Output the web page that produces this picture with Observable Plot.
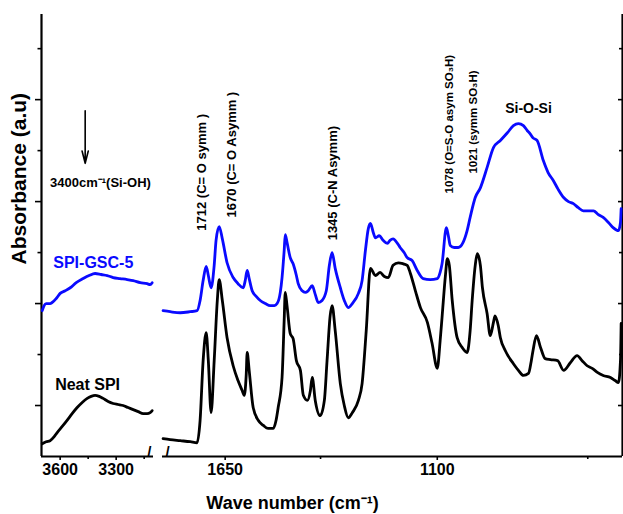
<!DOCTYPE html>
<html>
<head>
<meta charset="utf-8">
<script src="https://cdn.jsdelivr.net/npm/d3@7"></script>
<script src="https://cdn.jsdelivr.net/npm/@observablehq/plot@0.6"></script>
<style>
  body { margin: 0; background: #fff; }
  #chart { position: relative; width: 623px; height: 514px; }
  #chart svg { position: absolute; top: 0; }
</style>
</head>
<body>
<div id="chart"></div>
<script>
// ---- O–H stretching region (cm^-1) ----
const ohWaveNeat = [3696,3675,3654,3632,3616,3589,3563,3536,3509,3482,3455,3434,3413,3391,3370,3343,3316,3289,3263,3236,3209,3182,3155,3134,3118,3107];
const ohNeat     = [0.25,0.29,0.31,0.39,0.47,0.59,0.71,0.84,0.96,1.06,1.14,1.18,1.20,1.18,1.14,1.08,1.04,1.02,1.00,0.96,0.92,0.88,0.84,0.84,0.86,0.90];
const ohWaveGsc  = [3696,3686,3675,3654,3643,3621,3600,3573,3546,3514,3477,3445,3413,3380,3348,3316,3279,3241,3209,3171,3134,3118,3107];
const ohGsc      = [2.86,2.96,3.00,3.00,3.02,3.10,3.20,3.25,3.31,3.41,3.49,3.55,3.59,3.57,3.55,3.51,3.49,3.47,3.45,3.41,3.39,3.37,3.41];

// ---- fingerprint region (cm^-1) ----
const fpWaveNeat = [1858,1833,1798,1764,1741,1731,1721,1711,1704,1695,1685,1675,1669,1659,1644,1625,1610,1597,1591,1585,1582,1576,1564,1549,1534,1520,1505,1497,1491,1480,1474,1471,1466,1457,1449,1440,1429,1421,1410,1402,1397,1389,1376,1365,1358,1350,1345,1337,1324,1314,1304,1294,1279,1270,1260,1250,1238,1227,1217,1208,1197,1185,1174,1165,1158,1147,1136,1121,1111,1100,1094,1090,1083,1079,1075,1069,1059,1049,1039,1033,1029,1023,1019,1013,1009,1000,994,988,985,979,975,966,951,942,933,924,919,916,910,903,895,886,874,864,853,842,834,826,818,810,801,790,783,778,775,774];
const fpNeat     = [0.35,0.33,0.31,0.29,0.27,0.71,1.88,2.43,1.88,0.86,1.88,3.06,3.47,3.06,2.33,1.78,1.49,1.29,1.20,1.59,2.04,1.69,0.96,0.71,0.61,0.55,0.55,0.71,0.96,1.55,2.67,3.22,2.96,2.41,2.31,1.88,1.69,1.20,1.10,1.29,1.55,1.10,0.80,1.10,1.88,2.76,2.96,2.47,1.43,1.00,0.76,0.86,1.10,1.43,2.47,3.69,3.55,3.61,3.53,3.51,3.75,3.80,3.78,3.75,3.59,3.25,2.92,2.63,2.22,1.73,2.27,2.73,3.55,3.88,3.75,3.06,2.33,2.14,2.04,2.47,3.06,3.75,3.98,3.75,3.31,2.80,2.37,2.63,2.76,2.57,2.33,2.08,1.82,1.69,1.59,1.63,1.88,2.08,2.37,2.14,1.92,1.90,1.88,1.69,1.84,1.98,1.88,1.78,1.73,1.65,1.59,1.55,1.49,1.45,1.88,2.61];
const fpWaveGsc  = [1858,1833,1798,1764,1741,1731,1721,1711,1704,1695,1685,1679,1669,1659,1644,1625,1610,1594,1588,1582,1576,1567,1555,1543,1528,1514,1502,1494,1485,1480,1474,1471,1466,1457,1449,1440,1435,1424,1416,1408,1397,1389,1381,1371,1360,1352,1345,1337,1324,1314,1304,1294,1279,1270,1262,1255,1250,1243,1238,1229,1220,1210,1204,1197,1187,1181,1172,1165,1154,1143,1130,1115,1100,1094,1090,1081,1077,1073,1065,1057,1047,1039,1033,1023,1013,1000,988,975,962,951,942,933,926,921,916,909,898,890,881,873,864,856,848,840,832,824,816,809,801,793,786,778,775,774];
const fpGsc      = [2.86,2.84,2.82,2.84,2.86,3.06,3.45,3.73,3.55,3.31,3.75,4.24,4.51,4.27,3.80,3.51,3.39,3.31,3.45,3.65,3.49,3.25,3.14,3.06,3.00,2.96,2.96,3.00,3.22,3.51,4.04,4.35,4.20,3.90,3.78,3.55,3.39,3.25,3.22,3.25,3.35,3.18,3.02,3.06,3.25,3.75,4.00,3.69,3.31,3.06,2.92,3.00,3.20,3.45,4.04,4.47,4.57,4.39,4.29,4.33,4.24,4.18,4.24,4.27,4.18,4.10,4.00,3.90,3.84,3.65,3.49,3.47,3.49,3.61,3.78,4.49,4.33,4.14,4.10,4.10,4.20,4.43,4.69,5.08,5.27,5.67,6.06,6.20,6.35,6.49,6.53,6.49,6.39,6.33,6.25,6.20,5.80,5.57,5.41,5.24,5.08,5.00,4.96,4.88,4.82,4.82,4.82,4.75,4.69,4.59,4.49,4.43,4.59,4.86];

// ---- axes ----
const ohDomain = [3700, 3100];
const fpDomain = [1860, 772];
const yDomain = [0, 8.67];
const yMajor = [1, 3, 5, 7];
const yMinor = [2, 4, 6, 8];
const ohTicks = [3600, 3300];
const ohMinor = [3450, 3150];
const fpTicks = [1650, 1100];
const fpMinor = [1375, 825];

// ---- band assignments (carbonyl / amide, then sulfonate) ----
const amideLabels = ["1712 (C= O symm )", "1670 (C= O Asymm )", "1345 (C-N Asymm)"];
const amideWave = [1725, 1628, 1342];
const amideBase = [4.43, 4.69, 4.24];
const sulfoLabels = ["1078 (O=S-O asym SO\u2083H)", "1021 (symm SO\u2083H)"];
const sulfoWave = [1075, 1027];
const sulfoBase = [5.16, 5.55];

const BLUE = "#0a0aff";
const font = '"Liberation Sans", Arial, Helvetica, sans-serif';
const H = 514, MT = 14, MB = 58;

const toRows = (xs, ys) => xs.map((w, i) => ({w, a: ys[i]}));
const neatOH = toRows(ohWaveNeat, ohNeat);
const gscOH = toRows(ohWaveGsc, ohGsc);
const neatFP = toRows(fpWaveNeat, fpNeat);
const gscFP = toRows(fpWaveGsc, fpGsc);
const amide = amideLabels.map((t, i) => ({t, w: amideWave[i], a: amideBase[i]}));
const sulfo = sulfoLabels.map((t, i) => ({t, w: sulfoWave[i], a: sulfoBase[i]}));

const blank = () => "";
const bold = {fontWeight: "bold"};

const leftPlot = Plot.plot({
  width: 160, height: H,
  marginLeft: 41, marginRight: 7, marginTop: MT, marginBottom: MB,
  style: {fontFamily: font, background: "transparent", overflow: "visible", color: "#000"},
  x: {domain: ohDomain},
  y: {domain: yDomain},
  marks: [
    Plot.axisY({ticks: yMajor, tickSize: 6, tickFormat: blank, label: null, strokeWidth: 1.6}),
    Plot.axisY({ticks: yMinor, tickSize: 3.5, tickFormat: blank, label: null, strokeWidth: 1.6}),
    Plot.axisX({ticks: ohTicks, tickSize: 4, tickPadding: 3, tickFormat: d => String(d), label: null, fontSize: 16, ...bold, strokeWidth: 1.6}),
    Plot.axisX({ticks: ohMinor, tickSize: 3, tickFormat: blank, label: null, strokeWidth: 1.6}),
    Plot.ruleX([ohDomain[0]], {strokeWidth: 2.2}),
    Plot.ruleY([yDomain[0]], {strokeWidth: 2.2}),
    Plot.text(["/"], {frameAnchor: "bottom-right", dx: -2, fontSize: 15, ...bold}),
    Plot.line(neatOH, {x: "w", y: "a", stroke: "#000", strokeWidth: 2.8, curve: "monotone-x"}),
    Plot.line(gscOH, {x: "w", y: "a", stroke: BLUE, strokeWidth: 2.8, curve: "monotone-x"}),
    Plot.arrow([{w: 3466, a1: 6.78, a2: 5.75}], {x1: "w", y1: "a1", x2: "w", y2: "a2", strokeWidth: 1.6, headLength: 12, headAngle: 28}),
    Plot.text(["3400cm\u207B\u00B9(Si-OH)"], {x: 3654, y: 5.37, textAnchor: "start", fontSize: 13, ...bold}),
    Plot.text(["SPI-GSC-5"], {x: 3637, y: 3.80, textAnchor: "start", fontSize: 16, fill: BLUE, ...bold}),
    Plot.text(["Neat SPI"], {x: 3627, y: 1.41, textAnchor: "start", fontSize: 16, ...bold}),
    Plot.text(["Absorbance (a.u)"], {x: ohDomain[0], y: 5.45, rotate: -90, dx: -22, fontSize: 21, ...bold})
  ]
});

const rightPlot = Plot.plot({
  width: 473, height: H,
  marginLeft: 12, marginRight: 1, marginTop: MT, marginBottom: MB,
  style: {fontFamily: font, background: "transparent", overflow: "visible", color: "#000"},
  x: {type: "log", domain: fpDomain},
  y: {domain: yDomain},
  marks: [
    Plot.axisY({anchor: "right", ticks: yMajor, tickSize: -5, tickFormat: blank, label: null, strokeWidth: 1.6}),
    Plot.axisY({anchor: "right", ticks: yMinor, tickSize: -4, tickFormat: blank, label: null, strokeWidth: 1.6}),
    Plot.axisX({ticks: fpTicks, tickSize: 4, tickPadding: 3, tickFormat: d => String(d), label: null, fontSize: 16, ...bold, strokeWidth: 1.6}),
    Plot.axisX({ticks: fpMinor, tickSize: 3, tickFormat: blank, label: null, strokeWidth: 1.6}),
    Plot.ruleX([fpDomain[1]], {strokeWidth: 2.2}),
    Plot.ruleY([yDomain[0]], {strokeWidth: 2.2}),
    Plot.text(["/"], {frameAnchor: "bottom-left", dx: 3, fontSize: 15, ...bold}),
    Plot.line(neatFP, {x: "w", y: "a", stroke: "#000", strokeWidth: 2.8, curve: "monotone-x"}),
    Plot.line(gscFP, {x: "w", y: "a", stroke: BLUE, strokeWidth: 2.8, curve: "monotone-x"}),
    Plot.text(amide, {x: "w", y: "a", text: "t", rotate: -90, textAnchor: "start", fontSize: 13, ...bold}),
    Plot.text(sulfo, {x: "w", y: "a", text: "t", rotate: -90, textAnchor: "start", fontSize: 11.5, ...bold}),
    Plot.text(["Si-O-Si"], {x: 924, y: 6.83, fontSize: 14, ...bold}),
    Plot.text(["Wave number (cm\u207B\u00B9)"], {frameAnchor: "bottom", dx: -100, dy: 52, fontSize: 18, ...bold})
  ]
});

leftPlot.style.left = "0px";
rightPlot.style.left = "150px";
const chart = document.getElementById("chart");
chart.append(leftPlot, rightPlot);
</script>
</body>
</html>
